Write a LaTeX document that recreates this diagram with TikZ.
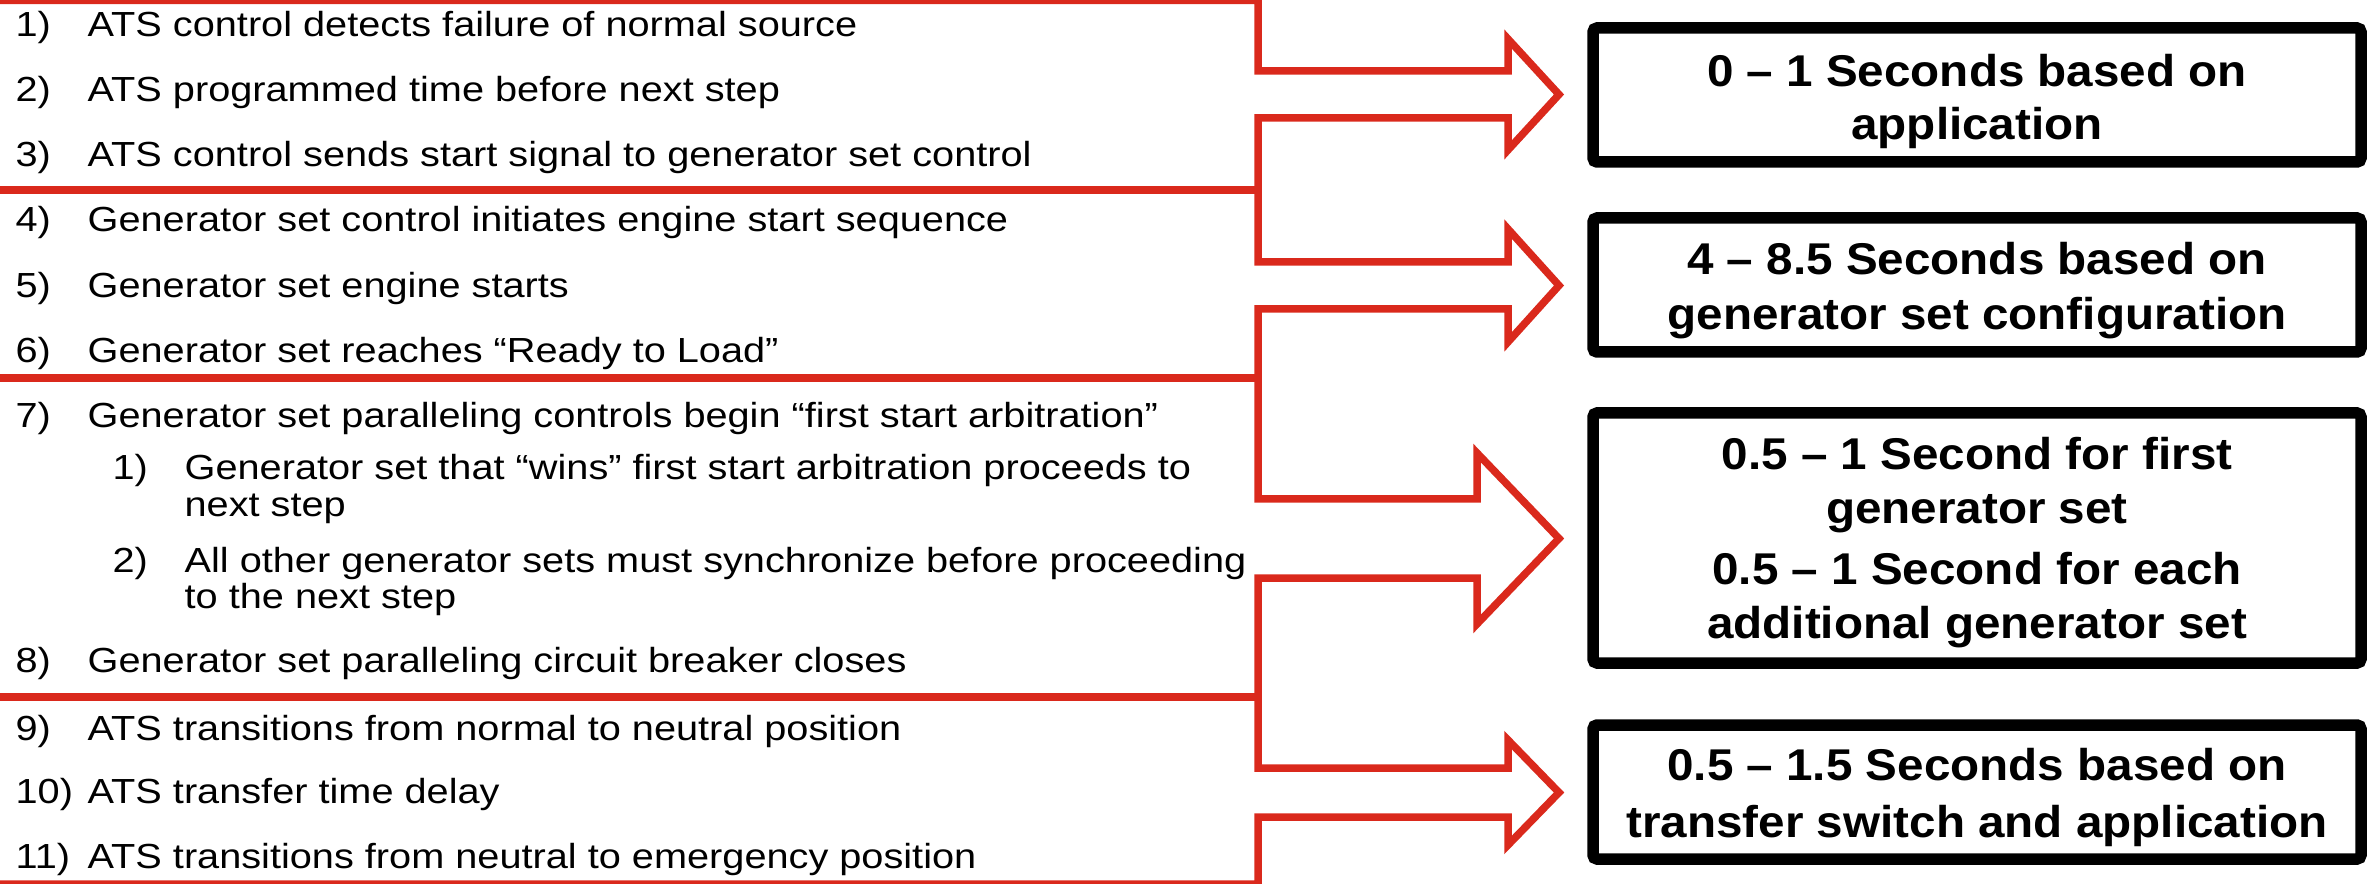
\documentclass[tikz,border=0pt]{standalone}
\usepackage{fontspec}
\newfontfamily\lfont{Liberation Sans}[FakeStretch=1.14]
\newfontfamily\bfont{Liberation Sans}[FakeStretch=1.07]
\definecolor{atsred}{RGB}{218,41,28}
\begin{document}
\begin{tikzpicture}[x=0.3pt,y=-0.3pt,
  redline/.style={draw=atsred, line width=2.25pt, line join=miter},
  timebox/.style={draw=black, line width=3.45pt, rounded corners=1.2pt, minimum width=230.4pt, minimum height=#1, inner sep=0pt},
  item/.style={anchor=base west, inner sep=0pt, font=\lfont\fontsize{10.45pt}{12pt}\selectfont},
  boxtxt/.style={anchor=base, inner sep=0pt, font=\bfont\bfseries\fontsize{13.35pt}{16pt}\selectfont}
]
\useasboundingbox (0,0) rectangle (2371,884);

% red bracket / arrow outline
\draw[redline] (0,0.5) -- (1258,0.5) -- (1258,71) -- (1508,71) -- (1508,39) -- (1559,94.5) -- (1508,150) -- (1508,118) -- (1258,118)
  -- (1258,262) -- (1508,262) -- (1508,229) -- (1559,285.5) -- (1508,342) -- (1508,309) -- (1258,309)
  -- (1258,499) -- (1477,499) -- (1477,453) -- (1559,538.5) -- (1477,624) -- (1477,578) -- (1258,578)
  -- (1258,768) -- (1508,768) -- (1508,740) -- (1559,792.5) -- (1508,845) -- (1508,817) -- (1258,817)
  -- (1258,884) -- (0,884);
\draw[redline] (0,190) -- (1258,190);
\draw[redline] (0,378) -- (1258,378);
\draw[redline] (0,697) -- (1258,697);

% time boxes
\node[timebox=40.2pt] (b1) at (1977,95) {};
\node[timebox=40.2pt] (b2) at (1977,285) {};
\node[timebox=75pt]   (b3) at (1977,538) {};
\node[timebox=40.2pt] (b4) at (1977,792) {};

\node[boxtxt] (b1a) at (1977,87)  {0 – 1 Seconds based on};
\node[boxtxt] (b1b) at (1977,140) {application};
\node[boxtxt] (b2a) at (1977,275) {4 – 8.5 Seconds based on};
\node[boxtxt] (b2b) at (1977,330) {generator set configuration};
\node[boxtxt] (b3a) at (1977,470) {0.5 – 1 Second for first};
\node[boxtxt] (b3b) at (1977,524) {generator set};
\node[boxtxt] (b3c) at (1977,585) {0.5 – 1 Second for each};
\node[boxtxt] (b3d) at (1977,638) {additional generator set};
\node[boxtxt] (b4a) at (1977,780) {0.5 – 1.5 Seconds based on};
\node[boxtxt] (b4b) at (1977,837) {transfer switch and application};

% steps
\node[item] (n1) at (15,37)  {1)};
\node[item] (t1) at (87,37)  {ATS control detects failure of normal source};
\node[item] (n2) at (15,102) {2)};
\node[item] (t2) at (87,102) {ATS programmed time before next step};
\node[item] (n3) at (15,167) {3)};
\node[item] (t3) at (87,167) {ATS control sends start signal to generator set control};
\node[item] (n4) at (15,232) {4)};
\node[item] (t4) at (87,232) {Generator set control initiates engine start sequence};
\node[item] (n5) at (15,298) {5)};
\node[item] (t5) at (87,298) {Generator set engine starts};
\node[item] (n6) at (15,363) {6)};
\node[item] (t6) at (87,363) {Generator set reaches “Ready to Load”};
\node[item] (n7) at (15,428) {7)};
\node[item] (t7) at (87,428) {Generator set paralleling controls begin “first start arbitration”};
\node[item] (n71) at (112,480) {1)};
\node[item] (t71a) at (184,480) {Generator set that “wins” first start arbitration proceeds to};
\node[item] (t71b) at (184,517) {next step};
\node[item] (n72) at (112,572) {2)};
\node[item] (t72a) at (184,572) {All other generator sets must synchronize before proceeding};
\node[item] (t72b) at (184,608) {to the next step};
\node[item] (n8) at (15,672) {8)};
\node[item] (t8) at (87,672) {Generator set paralleling circuit breaker closes};
\node[item] (n9) at (15,740) {9)};
\node[item] (t9) at (87,740) {ATS transitions from normal to neutral position};
\node[item] (n10) at (15,803) {10)};
\node[item] (t10) at (87,803) {ATS transfer time delay};
\node[item] (n11) at (15,868) {11)};
\node[item] (t11) at (87,868) {ATS transitions from neutral to emergency position};
\end{tikzpicture}
\end{document}
